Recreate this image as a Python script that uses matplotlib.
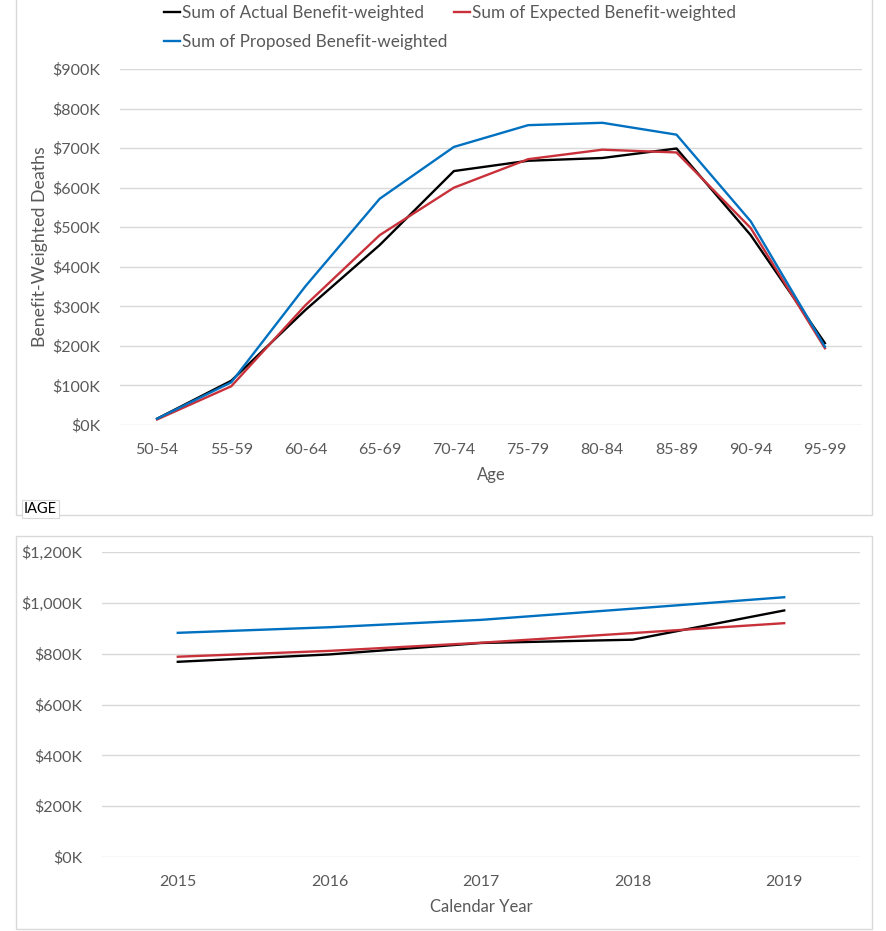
import matplotlib.pyplot as plt
import matplotlib.patches as patches
from matplotlib.ticker import FuncFormatter
import numpy as np

# values in $K
age_groups = ["50-54", "55-59", "60-64", "65-69", "70-74", "75-79", "80-84", "85-89", "90-94", "95-99"]
actual_by_age = [16, 112, 291, 455, 642, 668, 675, 699, 480, 207]
expected_by_age = [14, 98, 303, 480, 600, 672, 696, 689, 498, 194]
proposed_by_age = [16, 108, 351, 572, 703, 758, 764, 734, 515, 198]

years = ["2015", "2016", "2017", "2018", "2019"]
actual_by_year = [768, 797, 842, 855, 970]
expected_by_year = [788, 811, 843, 881, 920]
proposed_by_year = [882, 904, 933, 977, 1022]

BLACK = "#000000"
RED = "#C8313A"
BLUE = "#0070C0"
GRID = "#D9D9D9"
TEXT = "#595959"
TICK_FS = 11.5

plt.rcParams['font.family'] = ['Lato', 'DejaVu Sans']

W, H = 887, 931
fig = plt.figure(figsize=(W / 100, H / 100), dpi=100)


def box(x0, y0, x1, y1):
    # rectangle given in pixel coordinates from the top-left corner
    return [x0 / W, 1 - y1 / H, (x1 - x0) / W, (y1 - y0) / H]


money = FuncFormatter(lambda v, p: f"${v:,.0f}K")


def style(ax, ymax, step):
    ax.set_ylim(0, ymax)
    ax.set_yticks(np.arange(0, ymax + 1, step))
    ax.yaxis.set_major_formatter(money)
    ax.grid(axis='y', color=GRID, linewidth=1.0)
    ax.set_axisbelow(True)
    for s in ax.spines.values():
        s.set_visible(False)
    ax.tick_params(axis='both', length=0, labelsize=TICK_FS, labelcolor=TEXT)
    ax.tick_params(axis='y', pad=14)
    ax.tick_params(axis='x', pad=13)


# panel frames
fig.add_artist(patches.Rectangle((16 / W, 1 - 515 / H), 856 / W, 520 / H,
                                 transform=fig.transFigure, fill=False,
                                 edgecolor=GRID, linewidth=1.0))
fig.add_artist(patches.Rectangle((16 / W, 1 - 929 / H), 856 / W, 393 / H,
                                 transform=fig.transFigure, fill=False,
                                 edgecolor=GRID, linewidth=1.0))

# by age
ax1 = fig.add_axes(box(120, 69, 862, 425))
x = np.arange(len(age_groups))
l_act, = ax1.plot(x, actual_by_age, color=BLACK, linewidth=1.7, label="Sum of Actual Benefit-weighted")
l_exp, = ax1.plot(x, expected_by_age, color=RED, linewidth=1.7, label="Sum of Expected Benefit-weighted")
l_pro, = ax1.plot(x, proposed_by_age, color=BLUE, linewidth=1.7, label="Sum of Proposed Benefit-weighted")
ax1.set_xlim(-0.5, len(age_groups) - 0.5)
ax1.set_xticks(x)
ax1.set_xticklabels(age_groups)
style(ax1, 900, 100)
ax1.set_xlabel("Age", fontsize=12, color=TEXT, labelpad=7)
ax1.set_ylabel("Benefit-Weighted Deaths", fontsize=12.8, color=TEXT, labelpad=3)

fig.legend(handles=[l_act, l_pro, l_exp], ncol=2, frameon=False,
           loc='upper left', bbox_to_anchor=(152 / W, 1 + 7 / H),
           fontsize=12.3, labelcolor=TEXT, handlelength=0.95,
           handletextpad=0.1, columnspacing=0.4, labelspacing=0.75,
           borderpad=0.2)

# small field label under the first panel
fig.text(24 / W, 1 - 513 / H, "IAGE", fontsize=10.5, color="#000000",
         ha='left', va='baseline',
         bbox=dict(boxstyle='square,pad=0.12', facecolor='white',
                   edgecolor=GRID, linewidth=0.8))

# by calendar year
ax2 = fig.add_axes(box(102, 552, 860, 857))
xy = np.arange(len(years))
ax2.plot(xy, actual_by_year, color=BLACK, linewidth=1.7)
ax2.plot(xy, expected_by_year, color=RED, linewidth=1.7)
ax2.plot(xy, proposed_by_year, color=BLUE, linewidth=1.7)
ax2.set_xlim(-0.5, len(years) - 0.5)
ax2.set_xticks(xy)
ax2.set_xticklabels(years)
style(ax2, 1200, 200)
ax2.set_xlabel("Calendar Year", fontsize=12, color=TEXT, labelpad=7)

fig.savefig("out.png", dpi=100)
